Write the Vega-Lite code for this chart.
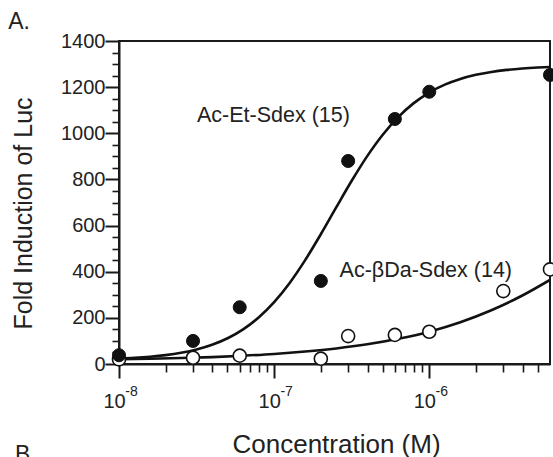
{
  "$schema": "https://vega.github.io/schema/vega-lite/v6.json",
  "width": 431,
  "height": 323,
  "autosize": {"type": "none"},
  "padding": {"left": 119, "top": 41, "right": 3, "bottom": 93},
  "background": "white",
  "config": {
    "font": "Liberation Sans",
    "view": {"stroke": "#1a1a1a", "strokeWidth": 2},
    "axis": {"grid": false, "domainColor": "#1a1a1a", "tickColor": "#1a1a1a", "labelColor": "#222", "titleColor": "#222", "labelFont": "Liberation Sans", "titleFont": "Liberation Sans", "titleFontWeight": "normal"}
  },
  "datasets": {
    "points": [
      {"conc": 1e-8, "induction": 38, "compound": "Ac-Et-Sdex (15)"},
      {"conc": 3e-8, "induction": 100, "compound": "Ac-Et-Sdex (15)"},
      {"conc": 6e-8, "induction": 246, "compound": "Ac-Et-Sdex (15)"},
      {"conc": 2e-7, "induction": 360, "compound": "Ac-Et-Sdex (15)"},
      {"conc": 3e-7, "induction": 880, "compound": "Ac-Et-Sdex (15)"},
      {"conc": 6e-7, "induction": 1062, "compound": "Ac-Et-Sdex (15)"},
      {"conc": 1e-6, "induction": 1180, "compound": "Ac-Et-Sdex (15)"},
      {"conc": 6e-6, "induction": 1253, "compound": "Ac-Et-Sdex (15)"},
      {"conc": 1e-8, "induction": 20, "compound": "Ac-βDa-Sdex (14)"},
      {"conc": 3e-8, "induction": 27, "compound": "Ac-βDa-Sdex (14)"},
      {"conc": 6e-8, "induction": 36, "compound": "Ac-βDa-Sdex (14)"},
      {"conc": 2e-7, "induction": 23, "compound": "Ac-βDa-Sdex (14)"},
      {"conc": 3e-7, "induction": 121, "compound": "Ac-βDa-Sdex (14)"},
      {"conc": 6e-7, "induction": 126, "compound": "Ac-βDa-Sdex (14)"},
      {"conc": 1e-6, "induction": 140, "compound": "Ac-βDa-Sdex (14)"},
      {"conc": 3e-6, "induction": 316, "compound": "Ac-βDa-Sdex (14)"},
      {"conc": 6e-6, "induction": 410, "compound": "Ac-βDa-Sdex (14)"}
    ],
    "curves": [
      {"conc": 1e-8, "induction": 22.9, "compound": "Ac-Et-Sdex (15)"},
      {"conc": 1.259e-8, "induction": 26.4, "compound": "Ac-Et-Sdex (15)"},
      {"conc": 1.585e-8, "induction": 31.4, "compound": "Ac-Et-Sdex (15)"},
      {"conc": 1.995e-8, "induction": 38.5, "compound": "Ac-Et-Sdex (15)"},
      {"conc": 2.512e-8, "induction": 48.7, "compound": "Ac-Et-Sdex (15)"},
      {"conc": 3.162e-8, "induction": 63.1, "compound": "Ac-Et-Sdex (15)"},
      {"conc": 3.981e-8, "induction": 83.4, "compound": "Ac-Et-Sdex (15)"},
      {"conc": 5.012e-8, "induction": 111.6, "compound": "Ac-Et-Sdex (15)"},
      {"conc": 6.31e-8, "induction": 150.2, "compound": "Ac-Et-Sdex (15)"},
      {"conc": 7.943e-8, "induction": 201.6, "compound": "Ac-Et-Sdex (15)"},
      {"conc": 1e-7, "induction": 268.2, "compound": "Ac-Et-Sdex (15)"},
      {"conc": 1.259e-7, "induction": 351.4, "compound": "Ac-Et-Sdex (15)"},
      {"conc": 1.585e-7, "induction": 450.2, "compound": "Ac-Et-Sdex (15)"},
      {"conc": 1.995e-7, "induction": 561.3, "compound": "Ac-Et-Sdex (15)"},
      {"conc": 2.512e-7, "induction": 678.6, "compound": "Ac-Et-Sdex (15)"},
      {"conc": 3.162e-7, "induction": 794.1, "compound": "Ac-Et-Sdex (15)"},
      {"conc": 3.981e-7, "induction": 901.1, "compound": "Ac-Et-Sdex (15)"},
      {"conc": 5.012e-7, "induction": 993.9, "compound": "Ac-Et-Sdex (15)"},
      {"conc": 6.31e-7, "induction": 1070.4, "compound": "Ac-Et-Sdex (15)"},
      {"conc": 7.943e-7, "induction": 1130.8, "compound": "Ac-Et-Sdex (15)"},
      {"conc": 1e-6, "induction": 1176.6, "compound": "Ac-Et-Sdex (15)"},
      {"conc": 1.259e-6, "induction": 1210.7, "compound": "Ac-Et-Sdex (15)"},
      {"conc": 1.585e-6, "induction": 1235.4, "compound": "Ac-Et-Sdex (15)"},
      {"conc": 1.995e-6, "induction": 1253.3, "compound": "Ac-Et-Sdex (15)"},
      {"conc": 2.512e-6, "induction": 1265.9, "compound": "Ac-Et-Sdex (15)"},
      {"conc": 3.162e-6, "induction": 1274.7, "compound": "Ac-Et-Sdex (15)"},
      {"conc": 3.981e-6, "induction": 1280.9, "compound": "Ac-Et-Sdex (15)"},
      {"conc": 5.012e-6, "induction": 1285.2, "compound": "Ac-Et-Sdex (15)"},
      {"conc": 6e-6, "induction": 1287.6, "compound": "Ac-Et-Sdex (15)"},
      {"conc": 1e-8, "induction": 20.7, "compound": "Ac-βDa-Sdex (14)"},
      {"conc": 1.585e-8, "induction": 22.8, "compound": "Ac-βDa-Sdex (14)"},
      {"conc": 2.512e-8, "induction": 25.7, "compound": "Ac-βDa-Sdex (14)"},
      {"conc": 3.981e-8, "induction": 29.7, "compound": "Ac-βDa-Sdex (14)"},
      {"conc": 6.31e-8, "induction": 35.8, "compound": "Ac-βDa-Sdex (14)"},
      {"conc": 1e-7, "induction": 43.5, "compound": "Ac-βDa-Sdex (14)"},
      {"conc": 1.585e-7, "induction": 54.0, "compound": "Ac-βDa-Sdex (14)"},
      {"conc": 2.512e-7, "induction": 67.5, "compound": "Ac-βDa-Sdex (14)"},
      {"conc": 3.981e-7, "induction": 85.5, "compound": "Ac-βDa-Sdex (14)"},
      {"conc": 6.31e-7, "induction": 109.5, "compound": "Ac-βDa-Sdex (14)"},
      {"conc": 1e-6, "induction": 140.2, "compound": "Ac-βDa-Sdex (14)"},
      {"conc": 1.585e-6, "induction": 181.2, "compound": "Ac-βDa-Sdex (14)"},
      {"conc": 2.512e-6, "induction": 233.1, "compound": "Ac-βDa-Sdex (14)"},
      {"conc": 3.981e-6, "induction": 297.0, "compound": "Ac-βDa-Sdex (14)"},
      {"conc": 6e-6, "induction": 364.5, "compound": "Ac-βDa-Sdex (14)"}
    ],
    "annotations": [
      {"conc": 3.18e-8, "induction": 1050, "label": "Ac-Et-Sdex (15)"},
      {"conc": 2.64e-7, "induction": 378, "label": "Ac-βDa-Sdex (14)"}
    ],
    "panels": [
      {"conc": 1.93e-9, "induction": 1452, "label": "A."},
      {"conc": 2.14e-9, "induction": -423, "label": "B"}
    ]
  },
  "layer": [
    {
      "data": {"name": "curves"},
      "mark": {"type": "line", "color": "#111", "strokeWidth": 2.6, "interpolate": "monotone", "clip": true},
      "encoding": {
        "x": {"field": "conc", "type": "quantitative",
              "scale": {"type": "log", "domain": [1e-8, 6e-6], "nice": false},
              "axis": {"orient": "bottom", "values": [1e-8, 1e-7, 1e-6], "tickSize": 14, "tickWidth": 2, "domainWidth": 2,
                       "labelExpr": "'10'", "labelFontSize": 20, "labelBaseline": "alphabetic", "labelPadding": 29, "labelOffset": -5,
                       "labelFlush": false, "labelOverlap": false,
                       "title": "Concentration (M)", "titleFontSize": 26, "titleBaseline": "alphabetic", "titleY": 88, "titleX": 217}},
        "y": {"field": "induction", "type": "quantitative",
              "scale": {"domain": [0, 1400], "nice": false},
              "axis": {"orient": "left", "values": [0, 200, 400, 600, 800, 1000, 1200, 1400], "format": "d", "tickSize": 14, "tickWidth": 2, "domainWidth": 2,
                       "labelFontSize": 20, "labelPadding": 0, "labelFlush": false, "labelOverlap": false,
                       "title": "Fold Induction of Luc", "titleFontSize": 25, "titleAngle": 270, "titleBaseline": "alphabetic", "titleAlign": "center", "titleX": -88, "titleY": 172}},
        "detail": {"field": "compound"}
      }
    },
    {
      "data": {"name": "points"},
      "transform": [{"filter": "datum.compound == 'Ac-βDa-Sdex (14)'"}],
      "mark": {"type": "point", "shape": "circle", "filled": true, "fill": "white", "stroke": "#111", "strokeWidth": 1.6, "size": 170, "opacity": 1},
      "encoding": {
        "x": {"field": "conc", "type": "quantitative",
              "scale": {"type": "log", "domain": [1e-8, 6e-6], "nice": false},
              "axis": {"orient": "bottom", "values": [2e-8, 3e-8, 4e-8, 5e-8, 6e-8, 7e-8, 8e-8, 9e-8, 2e-7, 3e-7, 4e-7, 5e-7, 6e-7, 7e-7, 8e-7, 9e-7, 2e-6, 3e-6, 4e-6, 5e-6],
                       "tickSize": 8, "tickWidth": 1.6, "domain": false, "labels": false, "title": null}},
        "y": {"field": "induction", "type": "quantitative",
              "scale": {"domain": [0, 1400], "nice": false},
              "axis": {"orient": "left", "values": [50, 100, 150, 250, 300, 350, 450, 500, 550, 650, 700, 750, 850, 900, 950, 1050, 1100, 1150, 1250, 1300, 1350],
                       "tickSize": 7, "tickWidth": 1.6, "domain": false, "labels": false, "title": null}}
      }
    },
    {
      "data": {"name": "points"},
      "transform": [{"filter": "datum.compound == 'Ac-Et-Sdex (15)'"}],
      "mark": {"type": "point", "shape": "circle", "filled": true, "fill": "#111", "stroke": "#111", "strokeWidth": 1, "size": 170, "opacity": 1},
      "encoding": {
        "x": {"field": "conc", "type": "quantitative",
              "scale": {"type": "log", "domain": [1e-8, 6e-6], "nice": false},
              "axis": {"orient": "bottom", "values": [1e-8, 1e-7, 1e-6], "ticks": false, "tickSize": 14, "domain": false,
                       "labelExpr": "'-' + round(-log(datum.value) / LN10)", "labelFontSize": 14, "labelBaseline": "alphabetic",
                       "labelPadding": 31, "labelOffset": 12, "labelFlush": false, "labelOverlap": false, "title": null}},
        "y": {"field": "induction", "type": "quantitative",
              "scale": {"domain": [0, 1400], "nice": false}, "axis": null}
      }
    },
    {
      "data": {"name": "annotations"},
      "mark": {"type": "text", "align": "left", "baseline": "alphabetic", "fontSize": 21.5, "color": "#222"},
      "encoding": {
        "x": {"field": "conc", "type": "quantitative", "scale": {"type": "log", "domain": [1e-8, 6e-6], "nice": false}, "axis": null},
        "y": {"field": "induction", "type": "quantitative", "scale": {"domain": [0, 1400], "nice": false}, "axis": null},
        "text": {"field": "label"}
      }
    },
    {
      "data": {"name": "panels"},
      "mark": {"type": "text", "align": "left", "baseline": "alphabetic", "fontSize": 23, "color": "#222"},
      "encoding": {
        "x": {"field": "conc", "type": "quantitative", "scale": {"type": "log", "domain": [1e-8, 6e-6], "nice": false}, "axis": null},
        "y": {"field": "induction", "type": "quantitative", "scale": {"domain": [0, 1400], "nice": false}, "axis": null},
        "text": {"field": "label"}
      }
    }
  ],
  "resolve": {"axis": {"x": "independent", "y": "independent"}}
}
